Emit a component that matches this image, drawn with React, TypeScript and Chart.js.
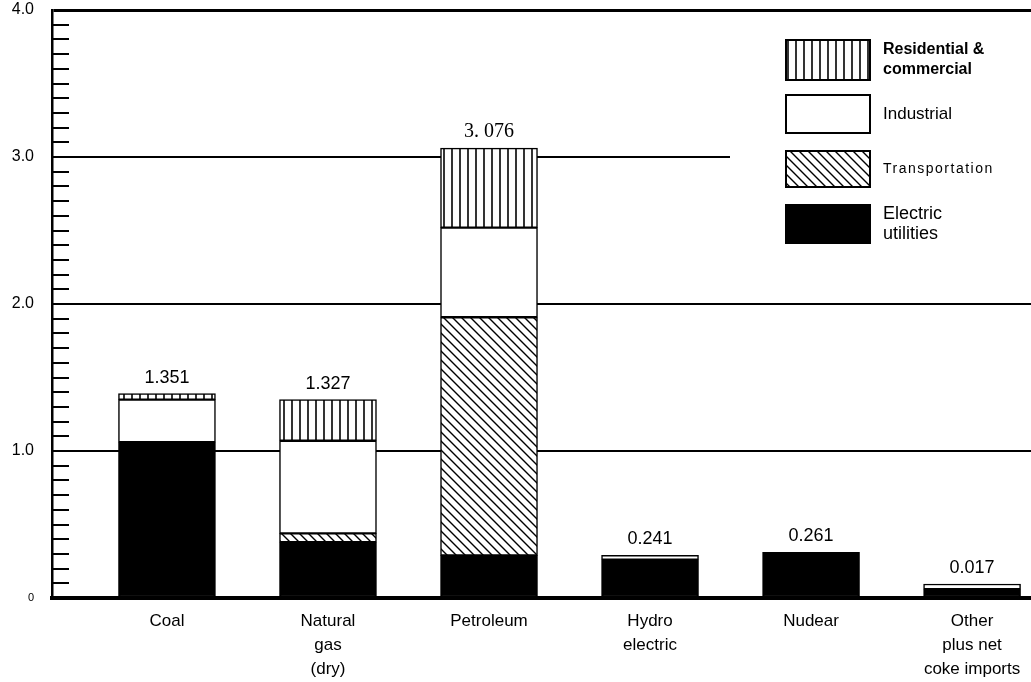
import React, { useEffect, useRef } from "react";
import { Chart, registerables } from "chart.js";

Chart.register(...registerables);

// ---- data ----
const categories: string[][] = [
  ["Coal"],
  ["Natural", "gas", "(dry)"],
  ["Petroleum"],
  ["Hydro", "electric"],
  ["Nudear"],
  ["Other", "plus net", "coke imports"],
];
const electricUtilities = [1.06, 0.38, 0.29, 0.26, 0.31, 0.06];
const transportation = [0, 0.06, 1.62, 0, 0, 0];
const industrial = [0.29, 0.63, 0.61, 0.03, 0, 0.035];
const residentialCommercial = [0.04, 0.28, 0.54, 0, 0, 0];
const totalLabels = ["1.351", "1.327", "3. 076", "0.241", "0.261", "0.017"];
const seriesNames = ["Electric utilities", "Transportation", "Industrial", "Residential & commercial"];
const yTicks = [0, 1, 2, 3, 4];

function verticalPattern(ctx: CanvasRenderingContext2D) {
  const c = document.createElement("canvas");
  c.width = 8;
  c.height = 8;
  const g = c.getContext("2d")!;
  g.fillStyle = "#fff";
  g.fillRect(0, 0, 8, 8);
  g.strokeStyle = "#000";
  g.lineWidth = 1.6;
  g.beginPath();
  g.moveTo(4, 0);
  g.lineTo(4, 8);
  g.stroke();
  return ctx.createPattern(c, "repeat")!;
}

function diagonalPattern(ctx: CanvasRenderingContext2D) {
  const s = 9;
  const c = document.createElement("canvas");
  c.width = s;
  c.height = s;
  const g = c.getContext("2d")!;
  g.fillStyle = "#fff";
  g.fillRect(0, 0, s, s);
  g.strokeStyle = "#000";
  g.lineWidth = 1.4;
  g.beginPath();
  g.moveTo(-1, -1);
  g.lineTo(s + 1, s + 1);
  g.moveTo(-1, s - 1);
  g.lineTo(1, s + 1);
  g.moveTo(s - 1, -1);
  g.lineTo(s + 1, 1);
  g.stroke();
  return ctx.createPattern(c, "repeat")!;
}

const SANS = "'Liberation Sans', Arial, sans-serif";

const decorations = {
  id: "decorations",
  afterDatasetsDraw(chart: any) {
    const ctx = chart.ctx as CanvasRenderingContext2D;
    const xs = chart.scales.x;
    const ys = chart.scales.y;
    ctx.save();
    ctx.fillStyle = "#000";
    ctx.textAlign = "center";
    ctx.textBaseline = "middle";
    totalLabels.forEach((t, i) => {
      const total = chart.data.datasets.reduce((s: number, d: any) => s + (d.data[i].y || 0), 0);
      const x = xs.getPixelForValue(i);
      const y = ys.getPixelForValue(total) - 16;
      ctx.font = i === 2 ? "20px 'Liberation Serif', serif" : `18px ${SANS}`;
      ctx.fillText(t, x, y);
    });
    ctx.restore();
  },
  afterDraw(chart: any) {
    const ctx = chart.ctx as CanvasRenderingContext2D;
    const ys = chart.scales.y;
    const left = chart.chartArea.left;
    ctx.save();
    // minor ticks
    ctx.strokeStyle = "#000";
    ctx.lineWidth = 2;
    for (let i = 1; i < 40; i++) {
      const y = Math.round(ys.getPixelForValue(i / 10));
      const len = i % 10 === 0 ? 30 : 17;
      ctx.beginPath();
      ctx.moveTo(left, y);
      ctx.lineTo(left + len, y);
      ctx.stroke();
    }
    // legend
    ctx.fillStyle = "#fff";
    ctx.fillRect(730, 28, 301, 222);
    const rows = [
      { ds: 3, y: 40, h: 40, lines: ["Residential &", "commercial"], font: `bold 16px ${SANS}`, spacing: "0px" },
      { ds: 2, y: 95, h: 38, lines: ["Industrial"], font: `17px ${SANS}`, spacing: "0px" },
      { ds: 1, y: 151, h: 36, lines: ["Transportation"], font: `14px ${SANS}`, spacing: "1.5px" },
      { ds: 0, y: 205, h: 38, lines: ["Electric", "utilities"], font: `18px ${SANS}`, spacing: "0px" },
    ];
    rows.forEach((r) => {
      const ds = chart.data.datasets[r.ds];
      ctx.fillStyle = ds.backgroundColor;
      ctx.fillRect(786, r.y, 84, r.h);
      ctx.strokeStyle = "#000";
      ctx.lineWidth = 2;
      ctx.strokeRect(786, r.y, 84, r.h);
      ctx.fillStyle = "#000";
      ctx.textAlign = "left";
      ctx.textBaseline = "middle";
      ctx.font = r.font;
      (ctx as any).letterSpacing = r.spacing;
      const cy = r.y + r.h / 2;
      if (r.lines.length === 1) {
        ctx.fillText(r.lines[0], 883, cy);
      } else {
        ctx.fillText(r.lines[0], 883, cy - 10);
        ctx.fillText(r.lines[1], 883, cy + 10);
      }
      (ctx as any).letterSpacing = "0px";
    });
    ctx.restore();
  },
};

export default function App() {
  const ref = useRef<HTMLCanvasElement | null>(null);
  useEffect(() => {
    const canvas = ref.current!;
    const ctx = canvas.getContext("2d")!;
    const vert = verticalPattern(ctx);
    const diag = diagonalPattern(ctx);
    const series = [electricUtilities, transportation, industrial, residentialCommercial];
    const fills: any[] = ["#000", diag, "#fff", vert];
    const chart = new Chart(canvas, {
      type: "bar",
      data: {
        datasets: series.map((vals, k) => ({
          label: seriesNames[k],
          data: vals.map((v, i) => ({ x: i, y: v })),
          backgroundColor: fills[k],
          borderColor: "#000",
          borderWidth: 1.5,
          borderSkipped: false,
          barThickness: 97,
        })),
      },
      options: {
        animation: false,
        responsive: true,
        maintainAspectRatio: false,
        layout: { padding: { top: 10, left: 0, right: 0, bottom: 0 } },
        plugins: { legend: { display: false }, tooltip: { enabled: false } },
        scales: {
          x: {
            type: "linear",
            min: -0.714,
            max: 5.366,
            offset: false,
            stacked: true,
            grid: { display: false, offset: false },
            border: { color: "#000", width: 4 },
            afterBuildTicks: (s: any) => {
              s.ticks = categories.map((_, i) => ({ value: i }));
            },
            afterFit: (s: any) => {
              s.height = 84;
              s.paddingLeft = 0;
              s.paddingRight = 0;
            },
            ticks: {
              autoSkip: false,
              maxRotation: 0,
              padding: 3,
              color: "#000",
              font: { family: SANS, size: 17, lineHeight: 1.42 },
              callback: (v: any) => categories[v] ?? "",
            },
          },
          y: {
            stacked: true,
            min: 0,
            max: 4,
            afterBuildTicks: (s: any) => {
              s.ticks = yTicks.map((v) => ({ value: v }));
            },
            afterFit: (s: any) => {
              s.width = 52;
              s.paddingTop = 0;
              s.paddingBottom = 0;
            },
            grid: {
              color: "#000",
              lineWidth: (c: any) => (c.tick && c.tick.value === 4 ? 3 : 2),
              drawTicks: false,
            },
            border: { color: "#000", width: 2.5 },
            ticks: {
              padding: 18,
              color: "#000",
              font: (c: any) => (c.tick && c.tick.value === 0 ? { family: SANS, size: 11 } : { family: SANS, size: 16 }),
              callback: (v: any) => (v === 0 ? "0" : Number(v).toFixed(1)),
            },
          },
        },
      },
      plugins: [decorations],
    } as any);
    return () => chart.destroy();
  }, []);
  return (
    <div style={{ position: "fixed", left: 0, top: 0, width: 1031, height: 682, background: "#fff" }}>
      <canvas ref={ref} />
    </div>
  );
}
